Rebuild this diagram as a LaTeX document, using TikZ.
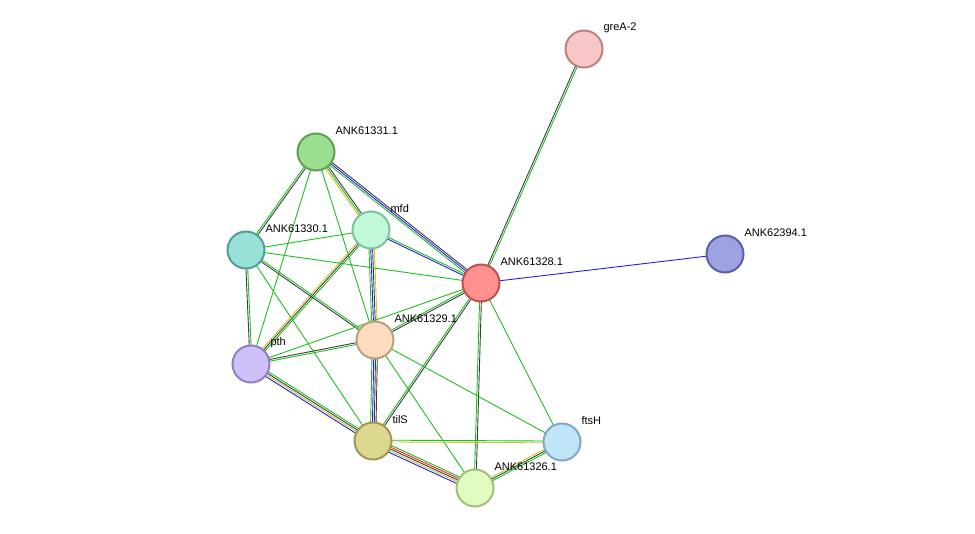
\documentclass[tikz,border=0pt]{standalone}
\usepackage{fontspec}
\setmainfont{Liberation Sans}
\usetikzlibrary{calc,backgrounds}
\definecolor{lgreen}{RGB}{30,190,30}
\definecolor{lblack}{RGB}{60,60,60}
\definecolor{lyellow}{RGB}{200,200,40}
\definecolor{lblue}{RGB}{30,30,240}
\definecolor{lred}{RGB}{240,30,30}
\tikzset{
  prot/.style 2 args={circle,minimum size=37pt,inner sep=0pt,line width=2pt,fill=#1,draw=#2},
  lab/.style={anchor=west,font=\fontsize{11}{12}\selectfont}
}
% #1,#2 nodes, #3 number of lines, #4 colours
\newcommand\link[4]{
\foreach \c [count=\i] in {#4}{
\pgfmathsetmacro\o{(\i-1-(#3-1)/2)*1.8}
\draw[\c,line width=0.9pt] ($(#1)!\o pt!90:(#2)$) -- ($(#2)!\o pt!-90:(#1)$);
}}
\begin{document}
\begin{tikzpicture}[x=1pt,y=-1pt]
\useasboundingbox (0,0) rectangle (975,534);
\foreach \n/\x/\y/\f/\d/\t in {
greA/584/49/F8C8C8/C08080/greA-2,
p62394/725/254/9DA3E0/5860A8/ANK62394.1,
p28/481/283/FF9090/C05050/ANK61328.1,
p31/316/152/9ADF90/60A050/ANK61331.1,
mfd/371/230/C0F8D8/80C0A0/mfd,
p30/246/250/98E0D8/50A098/ANK61330.1,
p29/375/340/FDDCC0/B8A080/ANK61329.1,
pth/251/364/D0C0F8/9080C0/pth,
tilS/373/441/DCD890/A09850/tilS,
ftsH/562/442/C0E4F8/80A8C8/ftsH,
p26/475/488/E0FCC0/A0C080/ANK61326.1}{
\definecolor{f\n}{HTML}{\f}\definecolor{d\n}{HTML}{\d}
\node[prot={f\n}{d\n}] (\n) at (\x,\y) {};
\node[lab] (\n-l) at (\x+16,\y-21) {\t};
}
\begin{pgfonlayer}{background}
\link{p31}{p30}{2}{lgreen,lblack}
\link{p31}{mfd}{3}{lyellow,lgreen,lblack}
\link{p31}{p28}{3}{lgreen,lblue,lblack}
\link{p31}{p29}{1}{lgreen}
\link{p31}{pth}{1}{lgreen}
\link{mfd}{p30}{1}{lgreen}
\link{mfd}{p28}{2}{lblue,lgreen}
\link{mfd}{p29}{4}{lgreen,lblue,lblack,lyellow}
\link{mfd}{pth}{3}{lyellow,lblack,lgreen}
\link{p30}{p28}{1}{lgreen}
\link{p30}{p29}{2}{lblack,lgreen}
\link{p30}{pth}{2}{lblack,lgreen}
\link{p30}{tilS}{1}{lgreen}
\link{p28}{p29}{2}{lgreen,lblack}
\link{p28}{pth}{1}{lgreen}
\link{p28}{tilS}{2}{lgreen,lblack}
\link{p28}{p26}{2}{lgreen,lblack}
\link{p28}{ftsH}{1}{lgreen}
\link{p28}{greA}{2}{lgreen,lblack}
\link{p28}{p62394}{1}{lblue}
\link{p29}{pth}{2}{lblack,lgreen}
\link{p29}{tilS}{4}{lgreen,lblue,lblack,lblack}
\link{p29}{p26}{1}{lgreen}
\link{p29}{ftsH}{1}{lgreen}
\link{pth}{tilS}{4}{lblue,lyellow,lblack,lgreen}
\link{tilS}{p26}{5}{lblue,lyellow,lblack,lred,lgreen}
\link{tilS}{ftsH}{2}{lyellow,lgreen}
\link{ftsH}{p26}{3}{lyellow,lblack,lgreen}
\end{pgfonlayer}
\end{tikzpicture}
\end{document}
